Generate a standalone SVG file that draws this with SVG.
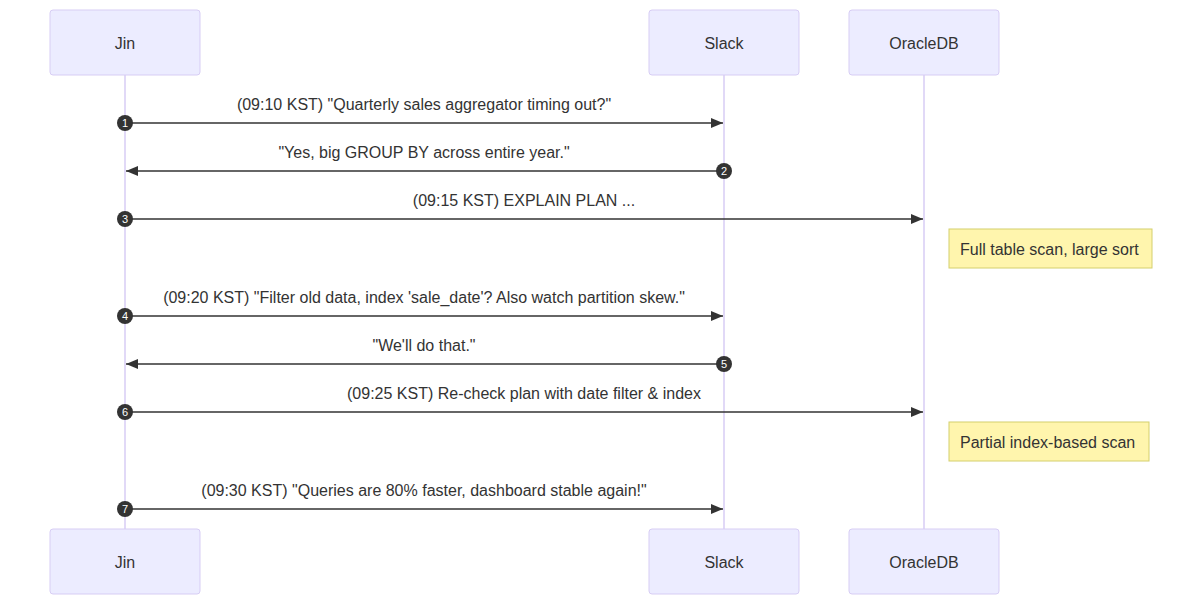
<svg xmlns="http://www.w3.org/2000/svg" width="1202" height="605" viewBox="0 0 1202 605">
<style>
  text { font-family: "Liberation Sans", Arial, sans-serif; fill: #333; }
  .actor rect { fill: #ececff; stroke: #d7cdf4; stroke-width: 1; }
  .actor text { font-size: 16px; text-anchor: middle; dominant-baseline: central; }
  .lifeline { stroke: #d7cdf4; stroke-width: 1.5; }
  .msg { stroke: #333; stroke-width: 1.5; fill: none; }
  .msgtext { font-size: 16px; text-anchor: middle; }
  .seq circle { fill: #333; }
  .seq text { fill: #fff; font-size: 11px; text-anchor: middle; dominant-baseline: central; }
  .note rect { fill: #fff5ad; stroke: #d4cf6c; stroke-width: 1; }
  .note text { font-size: 16px; dominant-baseline: central; }
</style>
<defs>
  <marker id="arrow" viewBox="0 0 12 10" refX="12" refY="5" markerWidth="12" markerHeight="10" markerUnits="userSpaceOnUse" orient="auto">
    <path d="M0,0 L12,5 L0,10 z" fill="#333"/>
  </marker>
</defs>
<g id="lifelines">
  <line class="lifeline" x1="125" y1="75" x2="125" y2="529"/>
  <line class="lifeline" x1="724" y1="75" x2="724" y2="529"/>
  <line class="lifeline" x1="924" y1="75" x2="924" y2="529"/>
</g>
<g id="actor-jin-top" class="actor"><rect x="50" y="10" width="150" height="65" rx="3"/><text x="125" y="43">Jin</text></g>
<g id="actor-slack-top" class="actor"><rect x="649" y="10" width="150" height="65" rx="3"/><text x="724" y="43">Slack</text></g>
<g id="actor-oracle-top" class="actor"><rect x="849" y="10" width="150" height="65" rx="3"/><text x="924" y="43">OracleDB</text></g>
<g id="actor-jin-bottom" class="actor"><rect x="50" y="529" width="150" height="65" rx="3"/><text x="125" y="562">Jin</text></g>
<g id="actor-slack-bottom" class="actor"><rect x="649" y="529" width="150" height="65" rx="3"/><text x="724" y="562">Slack</text></g>
<g id="actor-oracle-bottom" class="actor"><rect x="849" y="529" width="150" height="65" rx="3"/><text x="924" y="562">OracleDB</text></g>
<g id="connectors">
  <line class="msg" x1="125" y1="123" x2="723" y2="123" marker-end="url(#arrow)"/>
  <text class="msgtext" x="424" y="110">(09:10 KST) "Quarterly sales aggregator timing out?"</text>
  <line class="msg" x1="724" y1="171" x2="126" y2="171" marker-end="url(#arrow)"/>
  <text class="msgtext" x="424" y="158">"Yes, big GROUP BY across entire year."</text>
  <line class="msg" x1="125" y1="219" x2="923" y2="219" marker-end="url(#arrow)"/>
  <text class="msgtext" x="524" y="206">(09:15 KST) EXPLAIN PLAN ...</text>
  <line class="msg" x1="125" y1="316" x2="723" y2="316" marker-end="url(#arrow)"/>
  <text class="msgtext" x="424" y="303">(09:20 KST) "Filter old data, index 'sale_date'? Also watch partition skew."</text>
  <line class="msg" x1="724" y1="364" x2="126" y2="364" marker-end="url(#arrow)"/>
  <text class="msgtext" x="424" y="351">"We'll do that."</text>
  <line class="msg" x1="125" y1="412" x2="923" y2="412" marker-end="url(#arrow)"/>
  <text class="msgtext" x="524" y="399">(09:25 KST) Re-check plan with date filter &amp; index</text>
  <line class="msg" x1="125" y1="509" x2="723" y2="509" marker-end="url(#arrow)"/>
  <text class="msgtext" x="424" y="496">(09:30 KST) "Queries are 80% faster, dashboard stable again!"</text>
  <g class="seq"><circle cx="125" cy="123" r="8"/><text x="125" y="123">1</text></g>
  <g class="seq"><circle cx="724" cy="171" r="8"/><text x="724" y="171">2</text></g>
  <g class="seq"><circle cx="125" cy="219" r="8"/><text x="125" y="219">3</text></g>
  <g class="seq"><circle cx="125" cy="316" r="8"/><text x="125" y="316">4</text></g>
  <g class="seq"><circle cx="724" cy="364" r="8"/><text x="724" y="364">5</text></g>
  <g class="seq"><circle cx="125" cy="412" r="8"/><text x="125" y="412">6</text></g>
  <g class="seq"><circle cx="125" cy="509" r="8"/><text x="125" y="509">7</text></g>
</g>
<g id="note-1" class="note"><rect x="949" y="229" width="203" height="39"/><text x="960" y="249">Full table scan, large sort</text></g>
<g id="note-2" class="note"><rect x="949" y="422" width="200" height="39"/><text x="960" y="442">Partial index-based scan</text></g>
</svg>
